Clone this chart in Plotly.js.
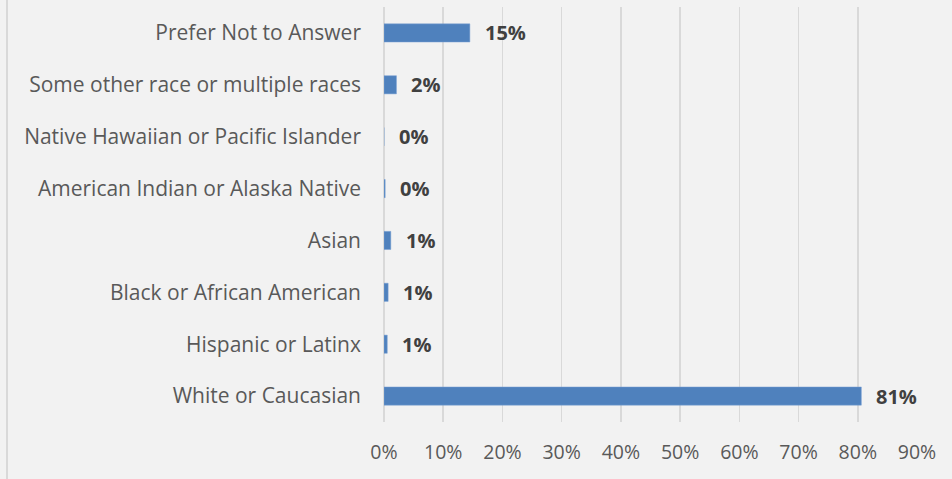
<!DOCTYPE html>
<html>
<head>
<meta charset="utf-8">
<script src="https://cdn.plot.ly/plotly-3.0.1.min.js"></script>
<style>
html,body{margin:0;padding:0;background:#f2f2f2;}
#wrap{position:relative;width:952px;height:479px;}
#edge{position:absolute;left:6px;top:0;width:2px;height:479px;background:#d9d9d9;}
#chart{position:absolute;left:0;top:0;width:952px;height:479px;}
</style>
</head>
<body>
<div id="wrap"><div id="chart"></div><div id="edge"></div></div>
<script>
const categories = [
  "White or Caucasian",
  "Hispanic or Latinx",
  "Black or African American",
  "Asian",
  "American Indian or Alaska Native",
  "Native Hawaiian or Pacific Islander",
  "Some other race or multiple races",
  "Prefer Not to Answer"
];
const values = [80.6, 0.55, 0.7, 1.15, 0.2, 0.0, 2.1, 14.5];
const labels = ["81%", "1%", "1%", "1%", "0%", "0%", "2%", "15%"];
const tickVals = [0,10,20,30,40,50,60,70,80,90];
const tickText = ["0%","10%","20%","30%","40%","50%","60%","70%","80%","90%"];

const font = "'Open Sans', 'Noto Sans', sans-serif";

const trace = {
  type: "bar",
  orientation: "h",
  y: categories,
  x: values,
  marker: {color: "#4f81bd", line: {color: "#7aa0d4", width: 0.5}},
  hoverinfo: "none"
};

const annotations = categories.map((c, i) => ({
  x: values[i], y: c, xref: "x", yref: "y",
  text: "<b>" + labels[i] + "</b>",
  showarrow: false, xanchor: "left", xshift: 13,
  font: {family: font, size: 20, color: "#404040"}
}));

const layout = {
  width: 952, height: 479,
  margin: {l: 384, r: 35, t: 7, b: 57},
  paper_bgcolor: "#f2f2f2",
  plot_bgcolor: "#f2f2f2",
  showlegend: false,
  bargap: 0.65,
  xaxis: {
    range: [0, 90],
    tickvals: tickVals, ticktext: tickText,
    showgrid: true, gridcolor: "#d9d9d9", gridwidth: 1.5,
    zeroline: true, zerolinecolor: "#d9d9d9", zerolinewidth: 1.5,
    showline: false, ticks: "",
    tickfont: {family: font, size: 19.5, color: "#595959"},
    ticklabelstandoff: 16,
    fixedrange: true
  },
  yaxis: {
    type: "category",
    categoryorder: "array", categoryarray: categories,
    showgrid: false, zeroline: false, showline: false, ticks: "",
    tickfont: {family: font, size: 21, color: "#595959"},
    ticklabelstandoff: 22,
    fixedrange: true
  },
  annotations: annotations
};

Plotly.newPlot("chart", [trace], layout, {displayModeBar: false, staticPlot: true});
</script>
</body>
</html>
